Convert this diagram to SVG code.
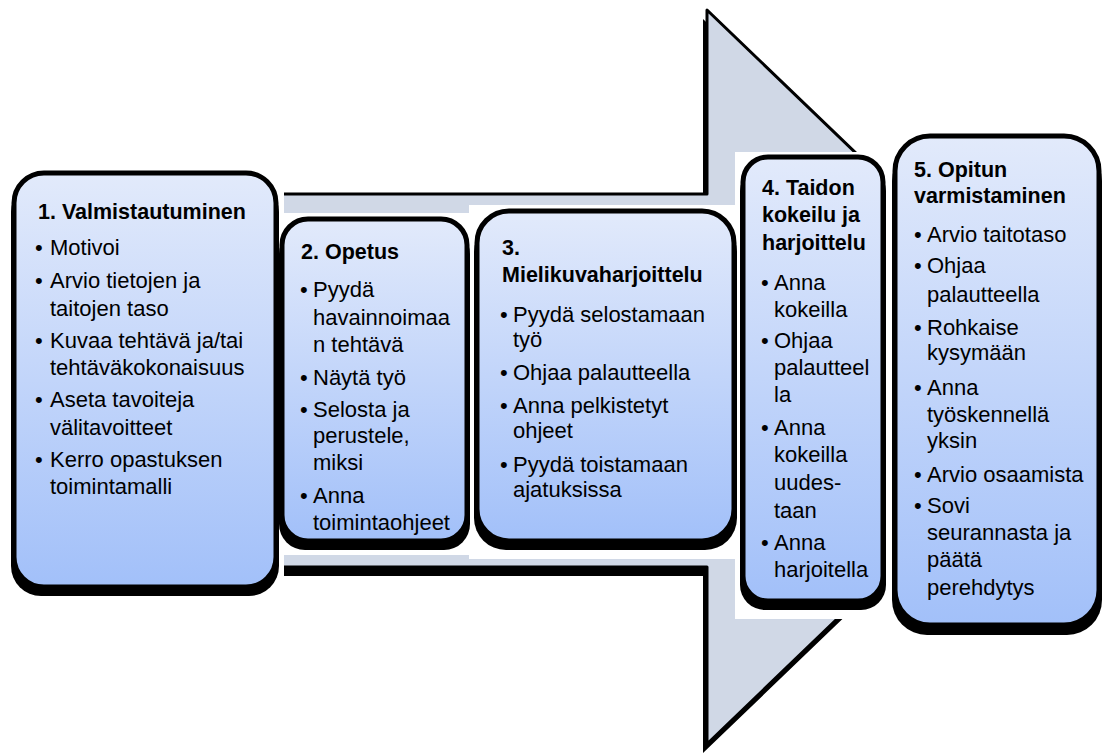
<svg xmlns="http://www.w3.org/2000/svg" width="1103" height="756" viewBox="0 0 1103 756">
<defs>
<linearGradient id="g" x1="0" y1="0" x2="0" y2="1">
<stop offset="0" stop-color="#e2eafb"/>
<stop offset="1" stop-color="#a2c0f9"/>
</linearGradient>
<style>
.sh{fill:#000}
.bx{fill:url(#g);stroke:#000;stroke-width:5}
.bg{fill:#fff}
text{font-family:"Liberation Sans",Arial,sans-serif;fill:#000}
.t{font-size:21.5px;font-weight:bold}
.b{font-size:22px}
</style>
</defs>
<rect width="1103" height="756" fill="#fff"/>
<g id="connectors">
<path d="M284,194 L707,194 L707,10 L1089,377 L707,744 L707,567 L284,567 Z" transform="translate(-4,9)" fill="#000"/>
<path d="M284,194 L707,194 L707,10 L1089,377 L707,744 L707,567 L284,567" fill="#d0d8e6" stroke="#000" stroke-width="3" stroke-linejoin="round"/>
</g>
<g id="backgrounds">
<rect class="bg" x="0" y="160" width="284" height="445"/>
<rect class="bg" x="272" y="213" width="197" height="342"/>
<rect class="bg" x="469" y="205" width="266" height="354"/>
<rect class="bg" x="735" y="152" width="150" height="467"/>
<rect class="bg" x="885" y="0" width="218" height="756"/>
</g>
<g id="node1">
<rect class="sh" x="11" y="182" width="268" height="414" rx="30"/>
<rect class="bx" x="14" y="173" width="262" height="414" rx="30"/>
<text class="t" x="38" y="219">1. Valmistautuminen</text>
<g class="b">
<text x="35" y="255">•</text><text x="50" y="255">Motivoi</text>
<text x="35" y="288">•</text><text x="50" y="288">Arvio tietojen ja</text>
<text x="50" y="316">taitojen taso</text>
<text x="35" y="348">•</text><text x="50" y="348">Kuvaa tehtävä ja/tai</text>
<text x="50" y="375">tehtäväkokonaisuus</text>
<text x="35" y="407">•</text><text x="50" y="407">Aseta tavoiteja</text>
<text x="50" y="435">välitavoitteet</text>
<text x="35" y="467">•</text><text x="50" y="467">Kerro opastuksen</text>
<text x="50" y="494">toimintamalli</text>
</g>
</g>
<g id="node2">
<rect class="sh" x="279" y="228" width="191" height="322" rx="26"/>
<rect class="bx" x="282" y="219" width="185" height="322" rx="26"/>
<text class="t" x="301" y="259">2. Opetus</text>
<g class="b">
<text x="300" y="297">•</text><text x="313" y="297">Pyydä</text>
<text x="313" y="325">havainnoimaa</text>
<text x="313" y="352">n tehtävä</text>
<text x="300" y="385">•</text><text x="313" y="385">Näytä työ</text>
<text x="300" y="417">•</text><text x="313" y="417">Selosta ja</text>
<text x="313" y="443">perustele,</text>
<text x="313" y="470">miksi</text>
<text x="300" y="503">•</text><text x="313" y="503">Anna</text>
<text x="313" y="530">toimintaohjeet</text>
</g>
</g>
<g id="node3">
<rect class="sh" x="474" y="220" width="263" height="330" rx="32"/>
<rect class="bx" x="477" y="211" width="257" height="330" rx="32"/>
<text class="t" x="502" y="255">3.</text>
<text class="t" x="502" y="282">Mielikuvaharjoittelu</text>
<g class="b">
<text x="500" y="322">•</text><text x="513" y="322">Pyydä selostamaan</text>
<text x="513" y="347">työ</text>
<text x="500" y="380">•</text><text x="513" y="380">Ohjaa palautteella</text>
<text x="500" y="413">•</text><text x="513" y="413">Anna pelkistetyt</text>
<text x="513" y="438">ohjeet</text>
<text x="500" y="472">•</text><text x="513" y="472">Pyydä toistamaan</text>
<text x="513" y="497">ajatuksissa</text>
</g>
</g>
<g id="node4">
<rect class="sh" x="740" y="166" width="146" height="444" rx="25"/>
<rect class="bx" x="743" y="157" width="140" height="444" rx="25"/>
<text class="t" x="762" y="195">4. Taidon</text>
<text class="t" x="762" y="222">kokeilu ja</text>
<text class="t" x="762" y="250">harjoittelu</text>
<g class="b">
<text x="761" y="290">•</text><text x="774" y="290">Anna</text>
<text x="774" y="317">kokeilla</text>
<text x="761" y="348">•</text><text x="774" y="348">Ohjaa</text>
<text x="774" y="375">palautteel</text>
<text x="774" y="402">la</text>
<text x="761" y="435">•</text><text x="774" y="435">Anna</text>
<text x="774" y="462">kokeilla</text>
<text x="774" y="490">uudes-</text>
<text x="774" y="518">taan</text>
<text x="761" y="550">•</text><text x="774" y="550">Anna</text>
<text x="774" y="577">harjoitella</text>
</g>
</g>
<g id="node5">
<rect class="sh" x="892" y="146" width="210" height="489" rx="35"/>
<rect class="bx" x="895" y="136" width="204" height="489" rx="35"/>
<text class="t" x="914" y="177">5. Opitun</text>
<text class="t" x="914" y="203">varmistaminen</text>
<g class="b">
<text x="914" y="242">•</text><text x="927" y="242">Arvio taitotaso</text>
<text x="914" y="273">•</text><text x="927" y="273">Ohjaa</text>
<text x="927" y="302">palautteella</text>
<text x="914" y="335">•</text><text x="927" y="335">Rohkaise</text>
<text x="927" y="360">kysymään</text>
<text x="914" y="395">•</text><text x="927" y="395">Anna</text>
<text x="927" y="422">työskennellä</text>
<text x="927" y="448">yksin</text>
<text x="914" y="482">•</text><text x="927" y="482">Arvio osaamista</text>
<text x="914" y="513">•</text><text x="927" y="513">Sovi</text>
<text x="927" y="540">seurannasta ja</text>
<text x="927" y="567">päätä</text>
<text x="927" y="595">perehdytys</text>
</g>
</g>
</svg>
